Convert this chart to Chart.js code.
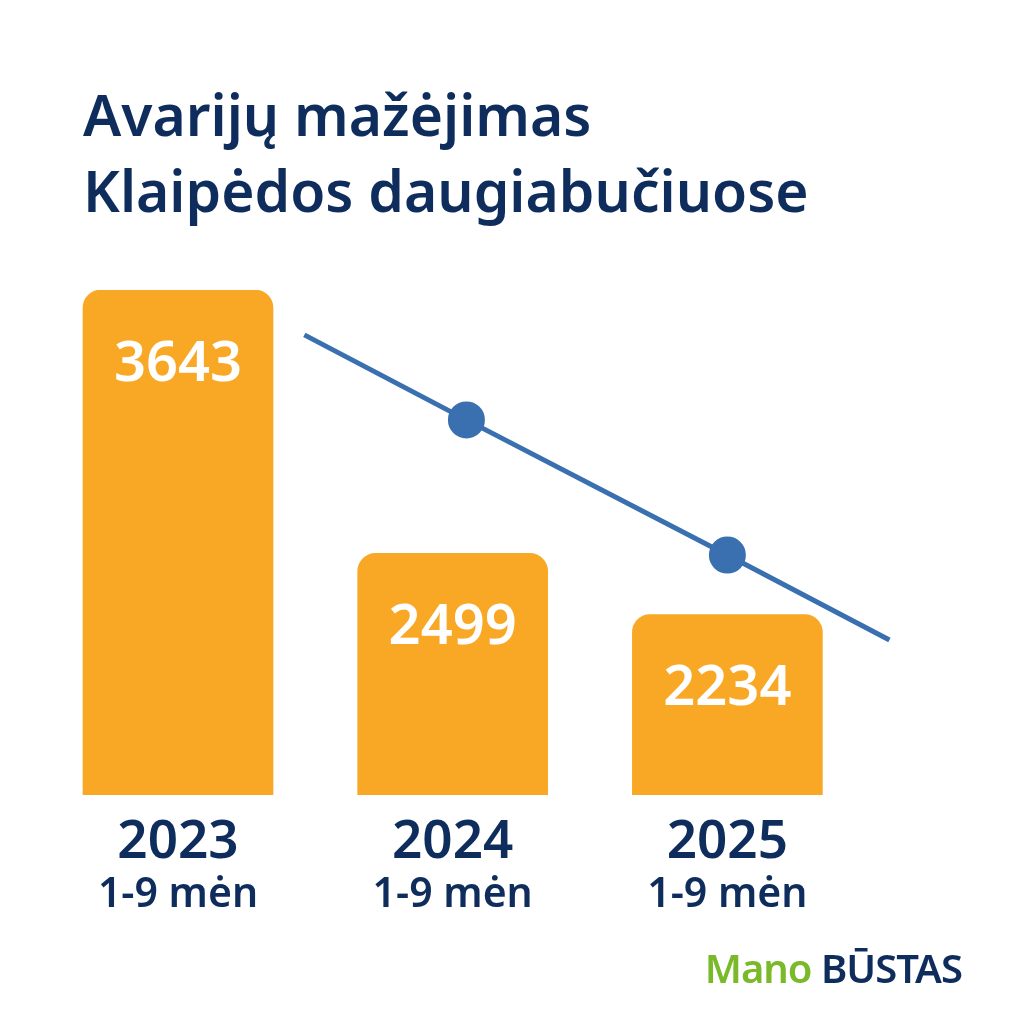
<!DOCTYPE html>
<html>
<head>
<meta charset="utf-8">
<script src="https://cdn.jsdelivr.net/npm/chart.js@4"></script>
<style>
  body { margin: 0; background: #fff; font-family: "Noto Sans", sans-serif; }
  #wrap { position: relative; width: 1024px; height: 1024px; }
  canvas { position: absolute; left: 0; top: 0; }
  h1 { position: absolute; left: 83px; top: 76px; margin: 0; font-size: 57px; line-height: 76px;
       color: #0f2d5c; font-weight: 600; }
  #logo { position: absolute; right: 62px; top: 940px; font-size: 40px; font-weight: 600; letter-spacing: -1px; }
  #logo .g { color: #7ab929; }
  #logo .n { color: #0f2d5c; }
</style>
</head>
<body>
<div id="wrap">
  <canvas id="c" width="1024" height="1024"></canvas>
  <h1>Avarijų mažėjimas<br>Klaipėdos daugiabučiuose</h1>
  <div id="logo"><span class="g">Mano</span> <span class="n">BŪSTAS</span></div>
</div>
<script>
const years = ["2023", "2024", "2025"];
const periods = ["1-9 mėn", "1-9 mėn", "1-9 mėn"];
const counts = [3643, 2499, 2234];
const barPos = [0.5, 1.5, 2.5];
// trend line drawn over the bars
const trendX = [0.96, 1.55, 2.5, 3.09];
const trendY = [3448, 3079, 2492, 2123];
const trendRadius = [0, 16, 16, 0];

const labelsPlugin = {
  id: "labels",
  afterDraw(chart) {
    const ctx = chart.ctx;
    const meta = chart.getDatasetMeta(0);
    ctx.save();
    ctx.textAlign = "center";
    ctx.textBaseline = "middle";
    meta.data.forEach((bar, i) => {
      ctx.fillStyle = "#fff";
      ctx.font = "600 56px 'Noto Sans'";
      ctx.fillText(counts[i], bar.x, bar.y + 75);
      ctx.fillStyle = "#0f2d5c";
      ctx.font = "600 53px 'Noto Sans'";
      ctx.fillText(years[i], bar.x, 843);
      ctx.font = "600 41px 'Noto Sans'";
      ctx.fillText(periods[i], bar.x, 895);
    });
    ctx.restore();
  }
};

new Chart(document.getElementById("c"), {
  data: {
    datasets: [{
      type: "bar",
      data: barPos.map((x, i) => ({ x, y: counts[i] })),
      backgroundColor: "#f9a826",
      borderRadius: { topLeft: 18, topRight: 18 },
      borderSkipped: "bottom",
      barThickness: 190,
      order: 2
    }, {
      type: "line",
      data: trendX.map((x, i) => ({ x, y: trendY[i] })),
      borderColor: "#3a6fb0",
      backgroundColor: "#3a6fb0",
      borderWidth: 5,
      pointRadius: trendRadius,
      pointHoverRadius: trendRadius,
      clip: false,
      order: 1
    }]
  },
  options: {
    responsive: false,
    animation: false,
    layout: { padding: { left: 41, right: 161, top: 290, bottom: 229 } },
    plugins: { legend: { display: false }, tooltip: { enabled: false } },
    scales: {
      x: { type: "linear", display: false, min: 0.215, max: 2.78 },
      y: { display: false, min: 1450, max: 3643 }
    }
  },
  plugins: [labelsPlugin]
});
</script>
</body>
</html>
